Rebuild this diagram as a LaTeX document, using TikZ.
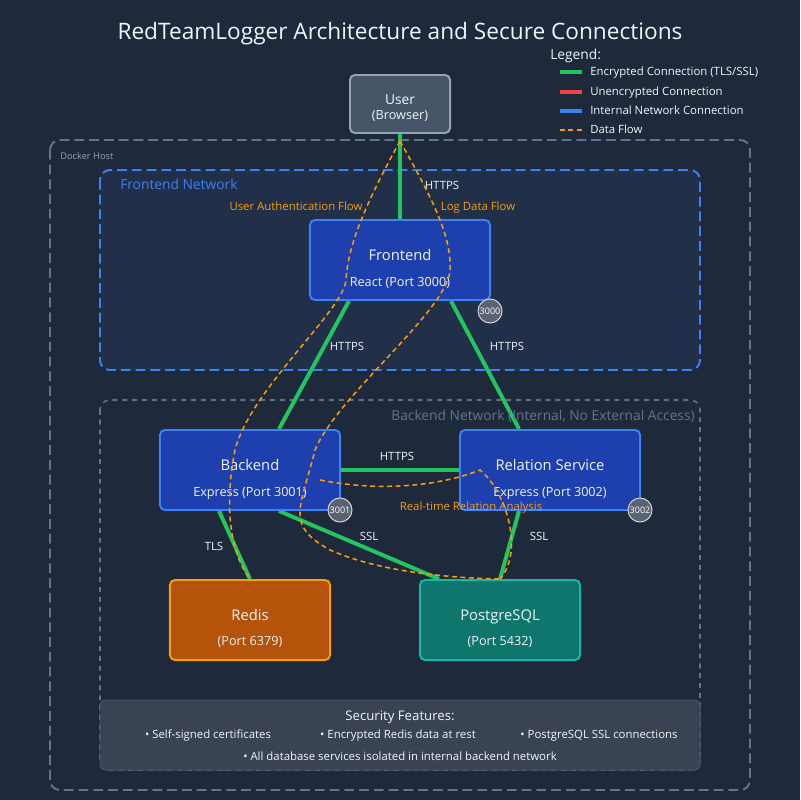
\documentclass[tikz,border=0pt]{standalone}
\usepackage{fontspec}
\setmainfont{Open Sans}
\usetikzlibrary{calc}
\definecolor{bgcol}{HTML}{1E293B}
\definecolor{fnetfill}{HTML}{212F49}
\definecolor{hostline}{HTML}{64748B}
\definecolor{netblue}{HTML}{3B82F6}
\definecolor{userfill}{HTML}{475569}
\definecolor{userline}{HTML}{94A3B8}
\definecolor{svcfill}{HTML}{1E40AF}
\definecolor{redisfill}{HTML}{B45309}
\definecolor{redisline}{HTML}{F59E0B}
\definecolor{pgfill}{HTML}{0F766E}
\definecolor{pgline}{HTML}{14B8A6}
\definecolor{encgreen}{HTML}{22C55E}
\definecolor{plainred}{HTML}{EF4444}
\definecolor{flowcol}{HTML}{F59E0B}
\definecolor{txtcol}{HTML}{F1F5F9}
\definecolor{secfill}{HTML}{394354}
\definecolor{secline}{HTML}{4B5563}
\definecolor{portfill}{HTML}{5B6271}
\definecolor{portline}{HTML}{D1D5DB}
\newcommand{\fsz}[1]{\fontsize{#1}{#1}\selectfont}
\pgfdeclarelayer{back}
\pgfdeclarelayer{edges}
\pgfsetlayers{back,edges,main}
\begin{document}
\begin{tikzpicture}[x=0.025cm,y=-0.025cm,
    box/.style={draw, line width=1.4pt, rounded corners=3.5pt, inner sep=0pt},
    svc/.style={box, fill=svcfill, draw=netblue, minimum width=4.5cm, minimum height=2cm},
    store/.style={box, minimum width=4cm, minimum height=2cm},
    txt/.style={text=txtcol, anchor=base, inner sep=0pt},
    ttl/.style={txt, font=\fsz{10.5}},
    subtxt/.style={txt, font=\fsz{9}},
    lbl/.style={txt, font=\fsz{8.1}},
    flowlbl/.style={lbl, text=flowcol},
    enc/.style={encgreen, line width=2.8pt},
    flow/.style={flowcol, line width=1.1pt, dash pattern=on 3.5pt off 2.5pt},
    net/.style={line width=1.4pt, rounded corners=7pt, dash pattern=on 7pt off 3.5pt},
    port/.style={circle, draw=portline, line width=0.7pt, fill=portfill,
      minimum size=0.6cm, inner sep=0pt, text=white, font=\fsz{6.4}}]
  \useasboundingbox (0,0) rectangle (800,800);

  % title and legend
  \node[txt, font=\fsz{16.1}] (title) at (400,40) {RedTeamLogger Architecture and Secure Connections};
  \node[txt, anchor=base west, font=\fsz{9.8}] (legend) at (550,60) {Legend:};
  \draw[enc] (560,72) -- (582,72);
  \draw[plainred, line width=2.8pt] (560,92) -- (582,92);
  \draw[netblue, line width=2.8pt] (560,111) -- (582,111);
  \draw[flow] (560,130) -- (582,130);
  \node[lbl, anchor=base west] (leg-enc) at (590,76) {Encrypted Connection (TLS/SSL)};
  \node[lbl, anchor=base west] (leg-plain) at (590,96) {Unencrypted Connection};
  \node[lbl, anchor=base west] (leg-int) at (590,115) {Internal Network Connection};
  \node[lbl, anchor=base west] (leg-flow) at (590,134) {Data Flow};

  % networks
  \begin{pgfonlayer}{back}
    \fill[bgcol] (0,0) rectangle (800,800);
    \draw[net, hostline] (50,140) rectangle (750,790);
    \draw[net, netblue, fill=fnetfill] (100,170) rectangle (700,370);
    \draw[hostline, line width=1.1pt, rounded corners=7pt, dash pattern=on 3.5pt off 3.5pt]
      (100,400) rectangle (700,770);
  \end{pgfonlayer}
  \node[txt, anchor=base west, text=userline, font=\fsz{6.6}] (host-lbl) at (60,160) {Docker Host};
  \node[txt, anchor=base west, text=netblue, font=\fsz{9.8}] (fnet-lbl) at (120,190) {Frontend Network};
  \node[txt, anchor=base east, text=hostline, font=\fsz{9.8}] (bnet-lbl) at (695,420)
    {Backend Network (Internal, No External Access)};

  % services
  \node[box, fill=userfill, draw=userline, minimum width=2.5cm, minimum height=1.45cm] (user) at (400,104) {};
  \node[ttl, font=\fsz{9.8}] (user-t) at (400,105) {User};
  \node[subtxt] (user-s) at (400,120) {(Browser)};

  \node[svc] (frontend) at (400,260) {};
  \node[ttl] (frontend-t) at (400,260) {Frontend};
  \node[subtxt] (frontend-s) at (400,286) {React (Port 3000)};

  \node[svc] (backend) at (250,470) {};
  \node[ttl] (backend-t) at (250,470) {Backend};
  \node[subtxt] (backend-s) at (250,496) {Express (Port 3001)};

  \node[svc] (relation) at (550,470) {};
  \node[ttl] (relation-t) at (550,470) {Relation Service};
  \node[subtxt] (relation-s) at (550,496) {Express (Port 3002)};

  \node[store, fill=redisfill, draw=redisline] (redis) at (250,620) {};
  \node[ttl] (redis-t) at (250,620) {Redis};
  \node[subtxt] (redis-s) at (250,645) {(Port 6379)};

  \node[store, fill=pgfill, draw=pgline] (postgres) at (500,620) {};
  \node[ttl] (postgres-t) at (500,620) {PostgreSQL};
  \node[subtxt] (postgres-s) at (500,645) {(Port 5432)};

  % encrypted links
  \begin{pgfonlayer}{edges}
    \draw[enc] (user.south) -- (frontend.north);
    \draw[enc] ($(frontend.south west)+(40,0)$) -- ($(backend.north west)+(120,0)$);
    \draw[enc] ($(frontend.south east)+(-40,0)$) -- ($(relation.north west)+(60,0)$);
    \draw[enc] (backend.east) -- (relation.west);
    \draw[enc] ($(backend.south west)+(60,0)$) -- (redis.north);
    \draw[enc] ($(backend.south west)+(120,0)$) -- ($(postgres.north west)+(20,0)$);
    \draw[enc] ($(relation.south west)+(60,0)$) -- (postgres.north);
  \end{pgfonlayer}
  \node[lbl] (https-1) at (442,190) {HTTPS};
  \node[lbl] (https-2) at (347,350) {HTTPS};
  \node[lbl] (https-3) at (507,350) {HTTPS};
  \node[lbl] (https-4) at (397,460) {HTTPS};
  \node[lbl] (tls-1) at (214,550) {TLS};
  \node[lbl] (ssl-1) at (369,540) {SSL};
  \node[lbl] (ssl-2) at (539,540) {SSL};

  % data flows
  \coordinate (flow-top) at ($(user.south)+(0,7)$);
  \coordinate (rta-start) at (320,480);
  \draw[flow] (flow-top) .. controls (365,205) and (348,245) .. (346,280)
    .. controls (344,310) and (250,390) .. (235,450)
    .. controls (225,500) and (228,550) .. (redis.north);
  \draw[flow] (flow-top) .. controls (430,195) and (452,235) .. (450,270)
    .. controls (448,310) and (338,395) .. (315,450)
    .. controls (300,510) and (285,525) .. (330,550)
    .. controls (380,572) and (450,578) .. (postgres.north);
  \draw[flow] (rta-start) .. controls (380,492) and (440,486) .. (480,470)
    .. controls (505,490) and (525,550) .. (postgres.north);
  \node[flowlbl] (auth-lbl) at (296,210) {User Authentication Flow};
  \node[flowlbl] (log-lbl) at (478,210) {Log Data Flow};
  \node[flowlbl] (rta-lbl) at (471,510) {Real-time Relation Analysis};

  % ports
  \node[port] (port-3000) at (490,311) {3000};
  \node[port] (port-3001) at (340,510) {3001};
  \node[port] (port-3002) at (640,510) {3002};

  % security features
  \draw[secline, fill=secfill, line width=0.7pt, rounded corners=3.5pt] (100,700) rectangle (700,770);
  \node[txt, font=\fsz{9.4}] (sec-t) at (400,720) {Security Features:};
  \node[lbl] (sec-1) at (208,738) {• Self-signed certificates};
  \node[lbl] (sec-2) at (398,738) {• Encrypted Redis data at rest};
  \node[lbl] (sec-3) at (599,738) {• PostgreSQL SSL connections};
  \node[lbl] (sec-4) at (400,760) {• All database services isolated in internal backend network};
\end{tikzpicture}
\end{document}
